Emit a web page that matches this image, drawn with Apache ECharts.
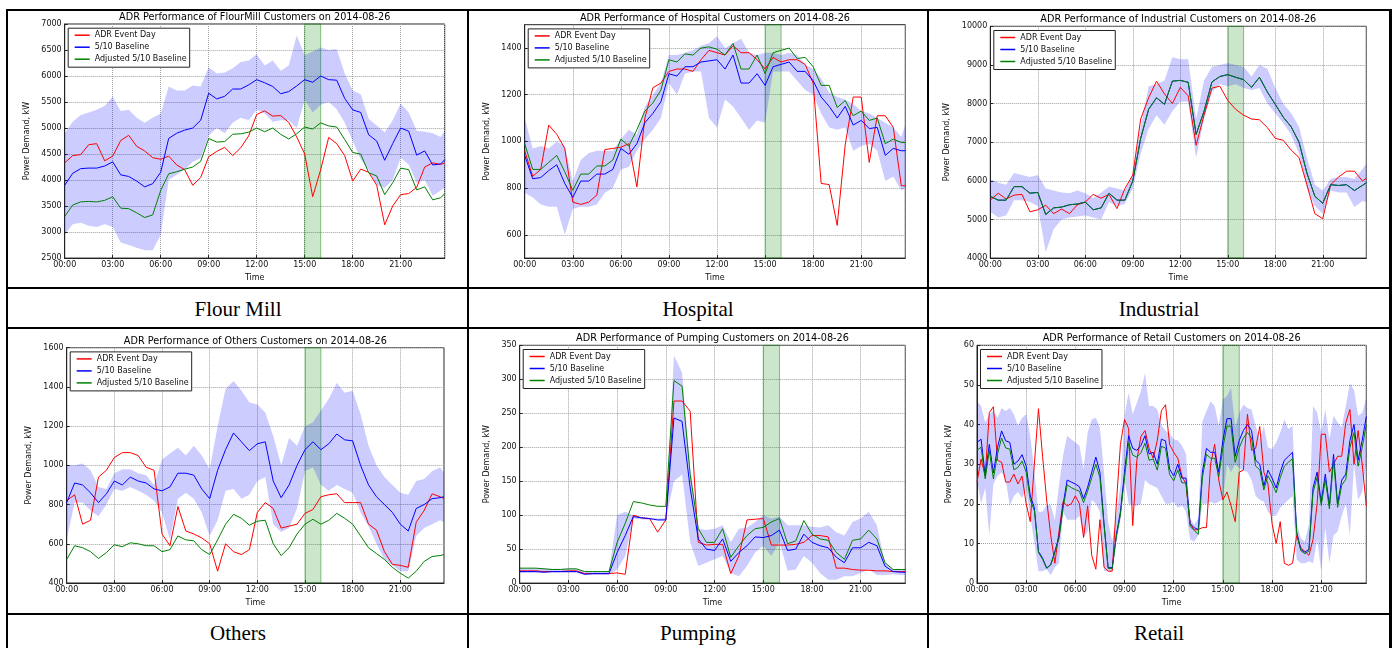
<!DOCTYPE html>
<html><head><meta charset="utf-8">
<script src="https://cdn.jsdelivr.net/npm/echarts@6.0.0/dist/echarts.min.js"></script>
<style>
html,body{margin:0;padding:0;background:#fff;}
body{width:1394px;height:648px;position:relative;overflow:hidden;}
.cell{position:absolute;}
.ln{position:absolute;background:#000;}
.cap{position:absolute;width:300px;text-align:center;font-family:"Liberation Serif","Times New Roman",serif;font-size:21px;line-height:24px;color:#000;}
</style></head><body>
<div class="ln" style="left:6px;top:9px;width:1386px;height:2px"></div>
<div class="ln" style="left:6px;top:287px;width:1386px;height:2px"></div>
<div class="ln" style="left:6px;top:327px;width:1386px;height:2px"></div>
<div class="ln" style="left:6px;top:613px;width:1386px;height:2px"></div>
<div class="ln" style="left:6px;top:9px;width:2px;height:639px"></div>
<div class="ln" style="left:467px;top:9px;width:2px;height:639px"></div>
<div class="ln" style="left:927px;top:9px;width:2px;height:639px"></div>
<div class="ln" style="left:1389px;top:9px;width:3px;height:639px"></div>
<div id="c0" class="cell" style="left:9px;top:11px;width:457px;height:276px"></div>
<div id="c1" class="cell" style="left:469px;top:11px;width:457px;height:276px"></div>
<div id="c2" class="cell" style="left:929px;top:11px;width:459px;height:276px"></div>
<div id="c3" class="cell" style="left:9px;top:330px;width:457px;height:282px"></div>
<div id="c4" class="cell" style="left:469px;top:330px;width:457px;height:282px"></div>
<div id="c5" class="cell" style="left:929px;top:330px;width:459px;height:282px"></div>
<script>
// ---------- data ----------
const times = [0,0.5,1,1.5,2,2.5,3,3.5,4,4.5,5,5.5,6,6.5,7,7.5,8,8.5,9,9.5,10,10.5,11,11.5,12,12.5,13,13.5,14,14.5,15,15.5,16,16.5,17,17.5,18,18.5,19,19.5,20,20.5,21,21.5,22,22.5,23,23.5,23.75];
const timesQuarter = [0,0.25,0.5,0.75,1,1.25,1.5,1.75,2,2.25,2.5,2.75,3,3.25,3.5,3.75,4,4.25,4.5,4.75,5,5.25,5.5,5.75,6,6.25,6.5,6.75,7,7.25,7.5,7.75,8,8.25,8.5,8.75,9,9.25,9.5,9.75,10,10.25,10.5,10.75,11,11.25,11.5,11.75,12,12.25,12.5,12.75,13,13.25,13.5,13.75,14,14.25,14.5,14.75,15,15.25,15.5,15.75,16,16.25,16.5,16.75,17,17.25,17.5,17.75,18,18.25,18.5,18.75,19,19.25,19.5,19.75,20,20.25,20.5,20.75,21,21.25,21.5,21.75,22,22.25,22.5,22.75,23,23.25,23.5,23.75];
const timeRange = [0, 23.75];
const timeStep = 3;
const eventWindow = [15, 16];
const seriesNames = ['ADR Event Day', '5/10 Baseline', 'Adjusted 5/10 Baseline'];
const titles = [
  'ADR Performance of FlourMill Customers on 2014-08-26',
  'ADR Performance of Hospital Customers on 2014-08-26',
  'ADR Performance of Industrial Customers on 2014-08-26',
  'ADR Performance of Others Customers on 2014-08-26',
  'ADR Performance of Pumping Customers on 2014-08-26',
  'ADR Performance of Retail Customers on 2014-08-26'
];
const captions = ['Flour Mill', 'Hospital', 'Industrial', 'Others', 'Pumping', 'Retail'];
const yName = 'Power Demand, kW';
const xName = 'Time';

const flourEvent = [4330,4470,4490,4680,4700,4370,4460,4760,4860,4650,4560,4430,4400,4460,4290,4200,3900,4050,4450,4550,4630,4470,4620,4850,5260,5330,5230,5240,5110,4830,4500,3680,4200,4820,4700,4470,3980,4210,4150,3900,3140,3500,3720,3740,3860,4250,4330,4300,4330];
const flourBase = [3900,4130,4220,4230,4230,4270,4350,4100,4070,3980,3870,3930,4150,4800,4900,4960,5000,5150,5670,5560,5610,5750,5750,5830,5930,5870,5800,5660,5700,5810,5930,5880,6000,5930,5920,5570,5350,5300,4870,4750,4380,4700,5000,4940,4480,4560,4290,4310,4390];
const flourAdj = [3300,3520,3580,3590,3580,3610,3680,3460,3450,3370,3280,3330,3800,4120,4160,4210,4250,4360,4800,4730,4740,4880,4890,4920,5000,4930,5000,4880,4790,4890,5020,4980,5100,5040,5020,4780,4530,4500,4140,4080,3720,3950,4230,4200,3810,3870,3620,3660,3740];
const flourHigh = [4900,5120,5250,5300,5350,5430,5600,5330,5350,5200,5100,5200,5280,5800,5720,5720,5820,5800,6170,6050,6070,6150,6270,6300,6420,6200,6300,6100,6200,6780,6400,6470,6550,6500,6520,6050,5720,5650,5180,5050,4920,5150,5470,5300,4950,4930,4900,4830,4950];
const flourLow = [2950,3150,3180,3120,3100,3150,3100,2800,2750,2700,2650,2650,2950,4000,4100,4200,4350,4420,4850,5000,4900,5100,5200,5150,5350,5280,5120,5150,5150,5000,5550,5300,5450,5500,5360,5100,4750,4400,4200,3900,3850,4000,4430,4300,3950,4000,3700,3800,3850];
const flourYRange = [2500, 7000];
const flourYTicks = [2500,3000,3500,4000,4500,5000,5500,6000,6500,7000];

const hospEvent = [960,850,880,1070,1030,970,740,730,740,770,965,970,975,990,805,1100,1230,1250,1300,1310,1310,1300,1350,1390,1380,1370,1410,1380,1380,1350,1310,1360,1340,1350,1350,1330,1250,820,815,640,985,1190,1190,910,1110,1110,1060,810,810];
const hospBase = [940,840,845,875,900,820,760,830,830,860,860,880,970,945,990,1080,1120,1170,1290,1280,1320,1320,1340,1345,1350,1310,1370,1250,1250,1290,1240,1320,1330,1340,1300,1300,1260,1190,1150,1100,1150,1070,1090,1055,1060,940,970,960,960];
const hospAdj = [990,880,880,910,940,870,790,860,860,895,895,920,1010,980,1050,1130,1165,1220,1350,1340,1375,1370,1400,1405,1395,1370,1420,1310,1310,1370,1290,1380,1390,1400,1355,1360,1320,1240,1240,1145,1175,1110,1130,1090,1100,990,1010,995,995];
const hospHigh = [1100,970,980,970,1000,980,830,920,950,960,960,960,1010,1050,1030,1150,1200,1250,1370,1370,1380,1390,1410,1420,1450,1400,1420,1440,1380,1370,1380,1380,1370,1380,1370,1330,1310,1270,1210,1190,1180,1160,1130,1120,1100,1080,1060,1020,1070];
const hospLow = [780,760,730,720,720,600,710,720,720,730,780,800,880,890,960,1010,1050,1100,1250,1200,1290,1300,1300,1100,1060,1180,1150,1100,1050,1090,1080,1300,1300,1300,1260,1220,1200,1120,1060,1050,1060,960,980,990,960,830,850,790,800];
const hospYRange = [500, 1500];
const hospYTicks = [600,800,1000,1200,1400];

const indEvent = [5500,5680,5530,5630,5650,5200,5250,5370,5150,5270,5150,5380,5450,5650,5550,5650,5280,5800,6150,7600,8150,8580,8250,8000,8420,8200,6920,7700,8400,8450,8080,7850,7700,7600,7580,7380,7100,7050,6800,6600,5900,5150,5020,5900,6100,6250,6250,6000,6060];
const indBase = [5600,5500,5500,5850,5850,5680,5700,5130,5300,5320,5380,5400,5450,5250,5300,5680,5500,5500,6000,7100,7850,8150,7980,8580,8600,8550,7200,7800,8560,8700,8750,8680,8620,8420,8680,8300,7980,7650,7400,7000,6200,5600,5420,5900,5880,5900,5750,5880,5950];
const indAdj = [5600,5500,5500,5850,5850,5680,5700,5130,5300,5320,5380,5400,5450,5250,5300,5680,5500,5500,6000,7100,7850,8150,7980,8580,8600,8550,7200,7800,8560,8700,8750,8680,8620,8420,8680,8300,7980,7650,7400,7000,6200,5600,5420,5900,5880,5900,5750,5880,5950];
const indHigh = [6050,5950,5900,6200,6150,6100,6150,5800,5750,5700,5680,5750,5680,5550,5700,5850,5800,5750,6150,7400,8450,8500,8600,9200,9150,9150,7600,8600,8950,9000,9050,9000,8950,8700,9000,8900,8400,8000,7750,7400,6600,5900,5750,6050,6100,6100,6050,6300,6450];
const indLow = [5200,5050,5100,5500,5500,5450,5350,4150,4750,5000,5050,5080,5100,5050,5000,5450,5350,5400,5800,6700,7350,7700,7450,7800,8050,8050,6600,7600,8300,8500,8450,8500,8400,8350,8400,8000,7750,7500,7200,6700,5800,5350,5150,5750,5700,5700,5320,5480,5450];
const indYRange = [4000, 10000];
const indYTicks = [4000,5000,6000,7000,8000,9000,10000];

const othEvent = [820,850,700,720,940,975,1040,1065,1065,1050,990,975,650,590,790,665,650,630,600,460,600,560,545,570,760,810,780,680,690,700,755,775,840,850,855,810,810,810,700,670,560,495,490,480,710,770,855,840,830];
const othBase = [810,910,900,860,810,855,920,900,940,920,910,880,870,890,960,960,950,880,830,975,1080,1165,1120,1075,1110,1120,920,835,900,1000,1080,1120,1080,1110,1160,1130,1125,1000,900,840,800,760,700,665,780,800,830,835,840];
const othAdj = [520,590,580,560,525,555,595,585,605,600,590,590,560,570,640,620,615,570,545,620,700,750,730,695,715,720,600,540,580,650,700,725,700,720,755,730,700,640,580,550,520,480,450,425,460,510,535,540,545];
const othHigh = [1000,1000,1010,975,890,880,960,980,980,960,950,900,1030,1060,1090,1050,1100,1050,980,1200,1390,1430,1380,1320,1310,1270,1150,1000,1140,1100,1200,1220,1280,1340,1420,1370,1380,1260,1100,1000,940,900,860,850,920,930,970,990,960];
const othLow = [620,810,810,770,740,800,880,870,890,870,850,820,760,620,830,860,830,760,640,720,870,880,830,850,920,940,700,660,680,780,970,990,900,870,900,880,860,760,690,600,520,490,460,460,640,680,700,720,710];
const othYRange = [400, 1600];
const othYTicks = [400,600,800,1000,1200,1400,1600];

const pumpEvent = [18,18,18,17,17,17,18,18,14,14,14,14,15,13,100,96,95,75,93,268,268,253,60,56,57,57,14,40,93,94,95,56,56,56,57,60,70,70,68,22,22,20,19,19,18,18,17,17,17];
const pumpBase = [17,17,17,16,17,17,17,17,13,14,14,14,45,70,98,96,95,93,93,243,238,140,65,50,48,65,32,45,55,68,67,70,78,48,50,72,60,55,52,38,30,52,52,60,55,25,17,16,16];
const pumpAdj = [22,22,22,21,20,20,21,21,17,17,17,17,60,88,120,118,115,113,113,298,290,160,80,60,60,80,38,55,70,80,82,90,95,58,62,92,72,65,63,45,35,63,65,78,65,30,20,20,20];
const pumpHigh = [22,22,22,22,21,21,21,21,17,17,17,17,100,105,100,97,96,95,96,335,310,170,80,78,80,85,60,80,82,90,100,95,98,85,85,85,83,82,85,75,70,90,95,105,85,30,20,20,20];
const pumpLow = [15,15,15,15,15,15,15,15,12,12,12,12,20,40,95,94,93,92,92,150,160,60,25,30,35,40,15,10,25,45,55,40,60,18,20,40,30,15,5,5,10,10,15,20,12,12,13,12,12];
const pumpYRange = [0, 350];
const pumpYTicks = [0,50,100,150,200,250,300,350];

// Retail is read at 15-minute resolution (timesQuarter)
const retEvent = [25.5,31.3,27,43,44.5,31,30.5,25.5,25.5,27.5,25,27, 20,15.5,30,44,32,21,12,5,13,20.5,19.5,20, 22,20,11.5,19.5,7,3.5,16,4,3,3,20,35, 41.3,39,14.5,31,37,38.5,34,31.5,36,43.5,45,35, 33,31.5,27,25,15,13.4,13.5,14,14,30,35,26, 21,23,19.5,15.5,28,28.5,42.6,33.5,34,39.5,28,25, 15,10,15.5,5,4.5,5,12,9,8,7,11,20, 37.5,37.6,28,30,32,32,40.5,43.8,30,38.5,30,19.5];
const retBase = [35.5,36.3,27.1,35,27.8,34.2,38.4,35.9,35.5,30,30.8,32.4, 29.5,22,19,8,6.3,3.8,4.7,8,11.7,19.7,26,25.5, 25,24.3,21.3,24.2,28,31.8,28,15,3.9,3.9,12.2,18, 28,37.2,34,33.5,34.7,37.2,32.6,33,30,36.3,35.9,28.8, 27,30,26.5,26.5,15,14,13.5,28,34,33,33,28, 36,41.5,41.5,32,36,38.5,40,38.5,31,30,24.5,28.5, 26.5,24,28,31,32,33,13,8.5,7.8,8.5,24,28, 20.5,27.5,19.5,32.5,20,26,27.5,36,40,31,36,42];
const retAdj = [33.5,34.3,26.3,33.5,26.3,32.5,36.6,34.1,33.8,28.6,29.2,30.8, 28,21,18.3,7.7,6,3.7,4.6,7.7,11.2,18.8,24.8,24.1, 23.6,23.2,20.3,23.2,26.6,30,26.6,14.5,3.7,3.7,11.7,17.2, 26.6,35.4,32.3,31.8,32.9,35.3,31,31.3,28.5,34.5,34.1,27.4, 25.8,28.6,25.3,25.3,14.3,13.3,12.3,26.6,32.5,31.5,31.5,26.8, 34.2,39.6,39.6,30.5,34.2,36.6,38,36.6,29.5,28.6,23.5,27.1, 25.2,22.8,26.6,29.5,30.5,31.4,12.5,8.2,7.4,8.1,22.9,26.7, 19.6,26.1,18.7,30.9,19.1,24.7,26.2,34.2,38,29.5,34.2,40];
const retHigh = [45.9,44.7,40.5,42.6,43.4,41.7,44.2,43.4,44.2,42.6,39.7,41.7, 42.6,37.2,28,18,18,19.7,19.7,15.9,24.6,32.2,37.2,36.3, 35.5,34.7,28.8,38,41.3,41.7,39.2,28,15.5,10.5,17.2,24.6, 42.2,48,42.6,45.5,48.4,53,44.7,44.7,43.8,39.8,38.5,37.7, 36.3,36,34.7,32.6,16.3,14.7,16.3,40.8,43.4,45.9,44.7,39.7, 46.3,47.2,49.3,39.3,43,45,44.2,43.8,39.7,36.3,39.7,34.3, 33.8,35.5,38,41.3,38.9,39.7,15.5,11.3,10.5,15,44.7,43, 38,43.8,36.3,42.2,40.5,39.3,44.7,50.5,48.8,42.2,43,46.7];
const retLow = [26,20,24,12,25,27,28,26,19.5,22,23,21.5, 23.5,17,10,3,3,3.5,2,4,5,18,16,16, 16,17,11.5,13,21,20,18,3,3,3,10,16, 26,20,19.5,19.5,20,26,25,24.5,24,22,20,20, 20.5,19,19.5,18,11,10.5,12,20,20,20.5,20,20.5, 21,30,28,30,29,28.5,28,26,22,21,20.5,18, 17,17,19,20,21,22,6,5,5,5.5,5,11, 3,14,5,12,13,17,20,12,30,21,23,30];
const retYRange = [0, 60];
const retYTicks = [0,10,20,30,40,50,60];

// ---------- layout (plot rectangles inside each cell) ----------
const layout = [
  {grid:[55.7,13,380,235], yGap:26},
  {grid:[55.7,13.7,380.6,235.6], yGap:27},
  {grid:[61.3,15.3,376,232.4], yGap:31.5},
  {grid:[57.7,17.7,377.3,235.3], yGap:28.5},
  {grid:[50.7,15.3,385.6,238.4], yGap:21.7},
  {grid:[48,15.3,389.3,240], yGap:17.3}
];
const panels = [
  [times, flourEvent, flourBase, flourAdj, flourHigh, flourLow, flourYRange, flourYTicks],
  [times, hospEvent, hospBase, hospAdj, hospHigh, hospLow, hospYRange, hospYTicks],
  [times, indEvent, indBase, indAdj, indHigh, indLow, indYRange, indYTicks],
  [times, othEvent, othBase, othAdj, othHigh, othLow, othYRange, othYTicks],
  [times, pumpEvent, pumpBase, pumpAdj, pumpHigh, pumpLow, pumpYRange, pumpYTicks],
  [timesQuarter, retEvent, retBase, retAdj, retHigh, retLow, retYRange, retYTicks]
];
const colors = ['#ff0000', '#0000ff', '#008000'];
const FONT = '"DejaVu Sans", sans-serif';

function hhmm(v) {
  const h = Math.floor(v), m = Math.round((v - h) * 60);
  return String(h).padStart(2, '0') + ':' + String(m).padStart(2, '0');
}

panels.forEach((p, k) => {
  const [tt, ev, base, adj, hi, lo, yr, yt] = p;
  const pair = arr => tt.map((t, i) => [t, arr[i]]);
  const [gl, gt, gw, gh] = layout[k].grid;
  const step = yt[1] - yt[0];
  const regular = (yr[0] === yt[0] && yr[1] === yt[yt.length - 1]);
  const chart = echarts.init(document.getElementById('c' + k), null, {renderer: 'canvas'});
  const yAxis = {
    type: 'value', min: yr[0], max: yr[1],
    axisLine: {show: true, lineStyle: {color: '#222', width: 1}},
    axisTick: {show: true, inside: true, length: 3, lineStyle: {color: '#222'}},
    axisLabel: {fontSize: 8, color: '#111', margin: 3, fontFamily: FONT, formatter: v => String(v)},
    splitLine: {show: true, lineStyle: {type: 'dotted', color: '#a0a0a0', width: 1}},
    name: yName, nameLocation: 'middle', nameGap: layout[k].yGap,
    nameTextStyle: {fontSize: 8, color: '#111', fontFamily: FONT}
  };
  if (regular) {
    yAxis.interval = step;
  } else {
    yAxis.splitNumber = 5;
    yAxis.axisTick.customValues = yt;
    yAxis.axisLabel.customValues = yt;
  }
  chart.setOption({
    animation: false,
    grid: {left: gl, top: gt, width: gw, height: gh, show: true, borderColor: '#222', borderWidth: 1, backgroundColor: 'transparent', containLabel: false},
    xAxis: {
      type: 'value', min: timeRange[0], max: timeRange[1], interval: timeStep,
      axisLine: {show: true, lineStyle: {color: '#222', width: 1}},
      axisTick: {show: true, inside: true, length: 3, lineStyle: {color: '#222'}},
      axisLabel: {fontSize: 8, color: '#111', margin: 3, fontFamily: FONT, showMaxLabel: false, formatter: hhmm},
      splitLine: {show: true, lineStyle: {type: 'dotted', color: '#a0a0a0', width: 1}},
      name: xName, nameLocation: 'middle', nameGap: 14,
      nameTextStyle: {fontSize: 8, color: '#111', fontFamily: FONT}
    },
    yAxis: yAxis,
    legend: {
      data: seriesNames, orient: 'vertical', left: gl + 3.5, top: gt + 4.2,
      icon: 'rect', itemWidth: 15, itemHeight: 1.5, itemGap: 2, padding: [2, 3, 3, 6.5],
      borderColor: '#222', borderWidth: 1, backgroundColor: '#fff', borderRadius: 0,
      selectedMode: false,
      textStyle: {fontSize: 8, lineHeight: 10, color: '#111', fontFamily: FONT}
    },
    graphic: [{
      type: 'text', x: gl + gw / 2, y: gt - 6.5, silent: true,
      style: {text: titles[k], fill: '#000', font: '9.7px ' + FONT, align: 'center', verticalAlign: 'middle', textAlign: 'center', textVerticalAlign: 'middle'}
    }],
    series: [
      {name: 'baselineRange', type: 'custom', silent: true, z: 1, clip: true,
       data: tt.map((t, i) => [t, hi[i], lo[i]]),
       encode: {x: 0, y: [1, 2]},
       renderItem: function (params, api) {
         if (params.dataIndex !== 0) return null;
         const pts = [];
         for (let i = 0; i < tt.length; i++) pts.push(api.coord([tt[i], hi[i]]));
         for (let i = tt.length - 1; i >= 0; i--) pts.push(api.coord([tt[i], lo[i]]));
         return {type: 'polygon', shape: {points: pts}, style: {fill: 'rgba(0,0,255,0.2)', stroke: 'none'}};
       }},
      {name: 'eventWindow', type: 'line', silent: true, z: 2, symbol: 'none',
       data: [[eventWindow[0], yr[0]], [eventWindow[1], yr[0]]], lineStyle: {opacity: 0},
       markArea: {silent: true, itemStyle: {color: 'rgba(0,128,0,0.2)', borderColor: 'rgba(0,128,0,0.45)', borderWidth: 1},
                  data: [[{xAxis: eventWindow[0]}, {xAxis: eventWindow[1]}]]}},
      {name: seriesNames[0], type: 'line', data: pair(ev), symbol: 'none', z: 3,
       lineStyle: {color: colors[0], width: 1}, itemStyle: {color: colors[0]}},
      {name: seriesNames[1], type: 'line', data: pair(base), symbol: 'none', z: 3,
       lineStyle: {color: colors[1], width: 1}, itemStyle: {color: colors[1]}},
      {name: seriesNames[2], type: 'line', data: pair(adj), symbol: 'none', z: 3,
       lineStyle: {color: colors[2], width: 1}, itemStyle: {color: colors[2]}}
    ]
  });
});

// captions
const capPos = [[238, 297], [698, 297], [1159, 297], [238, 621], [698, 621], [1159, 621]];
captions.forEach((c, i) => {
  const d = document.createElement('div');
  d.className = 'cap';
  d.style.left = (capPos[i][0] - 150) + 'px';
  d.style.top = capPos[i][1] + 'px';
  d.textContent = c;
  document.body.appendChild(d);
});
</script>
</body></html>
